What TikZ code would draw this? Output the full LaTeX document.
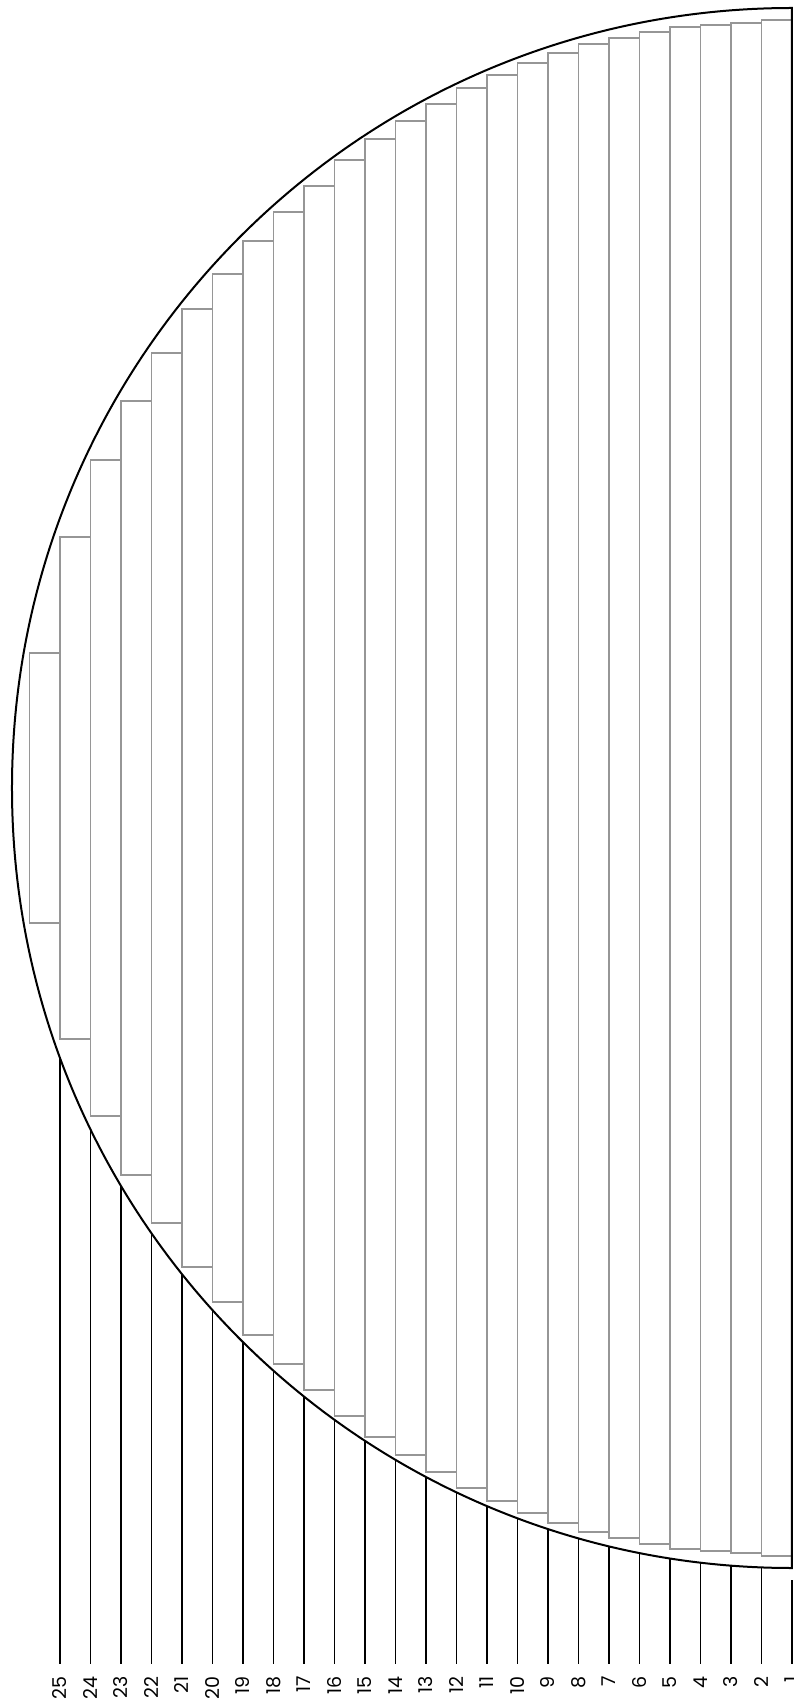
\documentclass[tikz,border=0pt]{standalone}
\usepackage{fontspec}
\setmainfont{Poppins}
\usetikzlibrary{positioning}
\definecolor{stripgray}{RGB}{150,150,150}
\tikzset{
  rim/.style={draw=black, line width=2pt},
  strip/.style={draw=stripgray, line width=1.4pt},
  tick/.style={draw=black, line width=1.1pt},
  numlabel/.style={rotate=90, anchor=east, inner sep=0pt, font=\fontsize{19}{21}\selectfont}
}

\begin{document}
\begin{tikzpicture}[x=1pt, y=1pt]
  \useasboundingbox (-792,-917) rectangle (2,788);
  % Strips
  \foreach \k/\h in {1/768, 2/765, 3/763, 4/761, 5/756, 6/750, 7/744, 8/735, 9/725,
                     10/713, 11/700, 12/684, 13/667, 14/649, 15/628, 16/602, 17/576,
                     18/547, 19/514, 20/479, 21/435, 22/387, 23/328, 24/251, 25/135} {
    \draw[strip] ({-\k*30.5},{-\h}) rectangle ({-(\k-1)*30.5},\h);
  }
  % Half circle
  \draw[rim] (0,780) arc[start angle=90, end angle=270, radius=780] -- cycle;
  % Numbers
  \foreach \k in {1,...,25} {
    \node[numlabel] (lbl\k) at ({-(\k-1)*30.5},-888) {\k};
  }
  % Lines down to the numbers
  \coordinate (rim1) at (0,-792);
  \foreach \k in {2,...,25} {
    \coordinate (rim\k) at ({-(\k-1)*30.5},{-100*sqrt(7.8*7.8-((\k-1)*0.305)^2)});
  }
  \foreach \k in {1,...,25} {
    \draw[tick] (rim\k) -- ([yshift=12pt]lbl\k.east);
  }
\end{tikzpicture}
\end{document}
